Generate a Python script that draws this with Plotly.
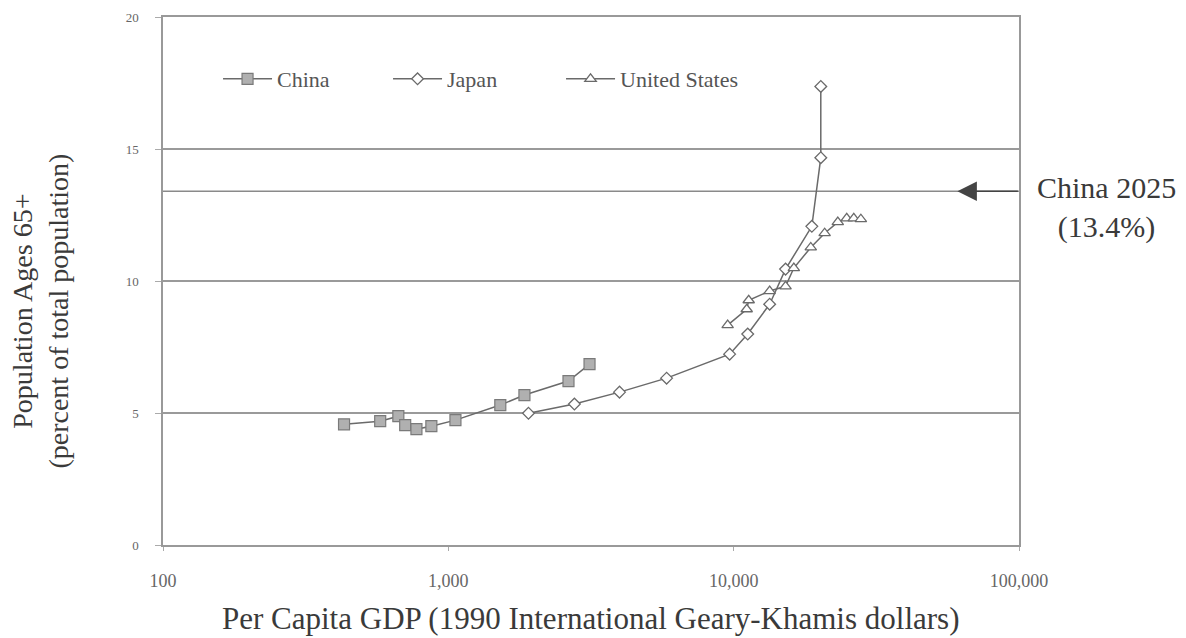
import plotly.graph_objects as go

# ---- data ----
china_gdp = [431, 577, 668, 706, 773, 872, 1059, 1521, 1848, 2637, 3125]
china_pct = [4.57, 4.69, 4.88, 4.54, 4.39, 4.50, 4.73, 5.30, 5.68, 6.21, 6.85]

japan_gdp = [1909, 2766, 3981, 5821, 9680, 11200, 13370, 15200, 18790, 20200, 20200]
japan_pct = [4.99, 5.34, 5.79, 6.32, 7.23, 7.99, 9.12, 10.45, 12.07, 14.67, 17.37]

us_gdp = [9527, 11110, 11290, 13370, 15200, 16250, 18630, 20840, 23170, 24900, 26360, 27910]
us_pct = [8.33, 8.93, 9.27, 9.62, 9.80, 10.49, 11.27, 11.81, 12.23, 12.37, 12.37, 12.34]

china_2025 = 13.4
x_tickvals = [100, 1000, 10000, 100000]
x_ticktext = ["100", "1,000", "10,000", "100,000"]
y_tickvals = [0, 5, 10, 15, 20]

FONT = "Liberation Serif, DejaVu Serif, serif"
LINE = "#6a6a6a"
TXT = "#3a3a3a"

fig = go.Figure()
fig.add_trace(go.Scatter(
    x=china_gdp, y=china_pct, name="China", mode="lines+markers", legend="legend",
    line=dict(color=LINE, width=1.5),
    marker=dict(symbol="square", size=11, color="#b0b0b0", line=dict(color="#7a7a7a", width=1.2)),
))
fig.add_trace(go.Scatter(
    x=japan_gdp, y=japan_pct, name="Japan", mode="lines+markers", legend="legend2",
    line=dict(color=LINE, width=1.5),
    marker=dict(symbol="diamond", size=9, color="white", line=dict(color="#6a6a6a", width=1.3)),
))
fig.add_trace(go.Scatter(
    x=us_gdp, y=us_pct, name="United States", mode="lines+markers", legend="legend3",
    line=dict(color=LINE, width=1.5),
    marker=dict(symbol="triangle-up", size=10, color="white", line=dict(color="#6a6a6a", width=1.3)),
))

# China 2025 reference line
fig.add_shape(type="line", xref="paper", x0=0, x1=1, yref="y", y0=china_2025, y1=china_2025,
              line=dict(color="#8a8a8a", width=1.5), layer="below")
fig.add_annotation(xref="paper", x=0.928, yref="y", y=china_2025, text="",
                   showarrow=True, arrowhead=2, arrowsize=2.6, arrowwidth=1.5,
                   arrowcolor="#444", ax=62, ay=0)
fig.add_annotation(xref="paper", x=1.1028, xanchor="center", yref="paper", y=0.639,
                   yanchor="middle", showarrow=False, text="China 2025<br>(13.4%)",
                   align="center", font=dict(family=FONT, size=30, color=TXT))

# axis titles
fig.add_annotation(xref="paper", x=0.5, xanchor="center", yref="paper", y=-0.1383,
                   yanchor="middle", showarrow=False,
                   text="Per Capita GDP (1990 International Geary-Khamis dollars)",
                   font=dict(family=FONT, size=31, color=TXT))
fig.add_annotation(xref="paper", x=-0.1430, xanchor="center", yref="paper", y=0.4432,
                   yanchor="middle", showarrow=False, textangle=-90, align="center",
                   text="Population Ages 65+<br>(percent of total population)",
                   font=dict(family=FONT, size=28, color=TXT))

leg_common = dict(orientation="h", y=0.8826, yanchor="middle", xanchor="left",
                  bgcolor="rgba(0,0,0,0)", font=dict(family=FONT, size=22, color="#555"),
                  itemwidth=49)

fig.update_layout(
    width=1186, height=638,
    margin=dict(l=163, r=167, t=17, b=93),
    paper_bgcolor="white", plot_bgcolor="white",
    font=dict(family=FONT, color="#444"),
    showlegend=True,
    legend=dict(x=0.0643, **leg_common),
    legend2=dict(x=0.2629, **leg_common),
    legend3=dict(x=0.4650, **leg_common),
)
fig.update_xaxes(
    type="log", range=[2, 5], tickvals=x_tickvals, ticktext=x_ticktext, automargin=False,
    showgrid=False, showline=True, linecolor="#999", linewidth=1.5, mirror=True,
    ticks="outside", ticklen=4, tickcolor="#aaa", ticklabelstandoff=15,
    tickfont=dict(family=FONT, size=18, color="#666"),
)
fig.update_yaxes(
    range=[0, 20], tickvals=y_tickvals, automargin=False,
    showgrid=True, gridcolor="#9a9a9a", gridwidth=1.5,
    showline=True, linecolor="#999", linewidth=1.5, mirror=True,
    ticks="outside", ticklen=6, tickcolor="#aaa", zeroline=False, ticklabelstandoff=14,
    tickfont=dict(family=FONT, size=13, color="#666"),
)

fig.write_html("out.html", config={"displayModeBar": False},
               post_script="document.body.style.margin='0';document.body.style.overflow='hidden';")
